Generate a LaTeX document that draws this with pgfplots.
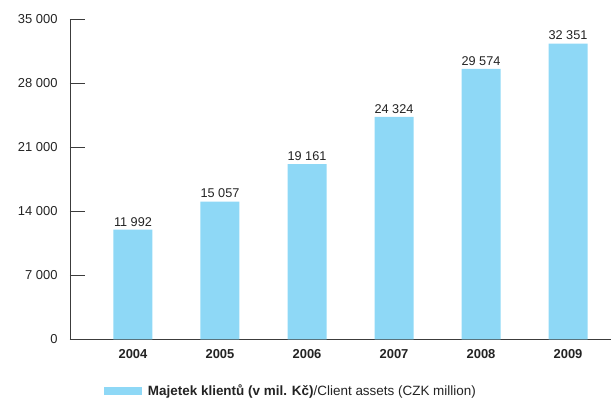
\documentclass[border=0pt]{standalone}
\usepackage{fontspec}
\setmainfont{Liberation Sans}
\usepackage{pgfplots}
\pgfplotsset{compat=1.18}
\definecolor{barblue}{RGB}{142,216,246}
\definecolor{axisgray}{RGB}{60,60,60}
\definecolor{textgray}{RGB}{35,35,35}

\begin{document}
\begin{tikzpicture}
\begin{axis}[
  at={(0,0)}, anchor=south west,
  scale only axis,
  width=541bp, height=320bp,
  xmin=-0.724, xmax=5.494,
  ymin=0, ymax=35000,
  ybar, bar width=39bp,
  axis x line=bottom, axis y line=left,
  axis line style={-, draw=axisgray, line width=0.8pt},
  xtick={0,...,5},
  xticklabels={2004,2005,2006,2007,2008,2009},
  x tick style={draw=none},
  xticklabel style={font=\fontsize{13}{15}\selectfont\bfseries, text=textgray, yshift=-7bp},
  ytick={0,7000,...,35000},
  y tick style={draw=axisgray, line width=0.8pt},
  major tick length=15bp, tick align=inside,
  yticklabel style={font=\fontsize{13}{15}\selectfont, text=textgray, xshift=-9bp},
  /pgf/number format/assume math mode=true,
  /pgf/number format/1000 sep={\ },
  scaled y ticks=false,
  nodes near coords,
  every node near coord/.append style={font=\fontsize{12.75}{15}\selectfont, text=textgray},
  legend style={at={(axis description cs:0,0)}, anchor=west,
    xshift=34bp, yshift=-51.4bp, draw=none, fill=none,
    inner sep=0pt, outer sep=0pt, column sep=6bp,
    nodes={inner sep=0pt}, font=\fontsize{13.5}{15}\selectfont, text=textgray},
  legend image code/.code={\fill[barblue] (0bp,-4.3bp) rectangle (38bp,3.7bp);},
]
\addplot[fill=barblue, draw=none] coordinates {
  (0,11992) (1,15057) (2,19161) (3,24324) (4,29574) (5,32351)
};
\addlegendentry{\textbf{Majetek klientů (v mil. Kč)}/Client assets (CZK million)}
\end{axis}
\pgfresetboundingbox
\useasboundingbox (-70bp,-58.7bp) rectangle (541bp,339.3bp);
\end{tikzpicture}
\end{document}
